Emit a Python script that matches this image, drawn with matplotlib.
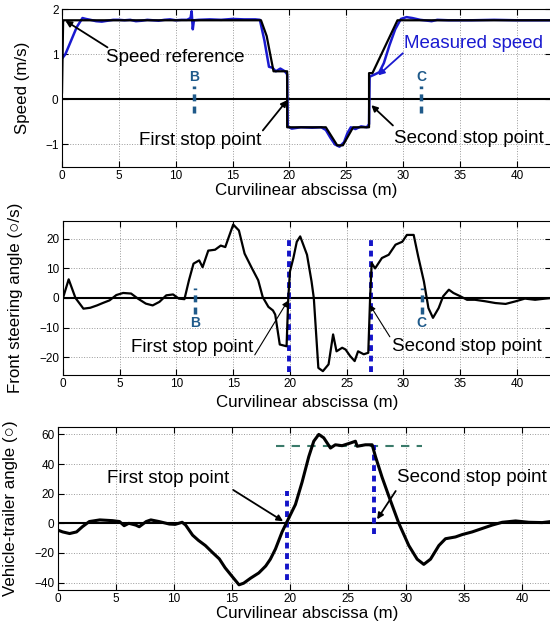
import matplotlib
matplotlib.use("Agg")
import matplotlib.pyplot as plt

plt.rcParams['font.family'] = ['Liberation Sans', 'DejaVu Sans']

# speed panel
ref_x = [0, 0.1, 17.5, 18.0, 18.6, 19.8, 19.8, 23.2, 24.2, 24.7, 25.6, 27.0, 27.0, 27.3, 29.5, 43]
ref_v = [0.15, 1.75, 1.75, 1.4, 0.62, 0.62, -0.62, -0.62, -1.02, -1.02, -0.62, -0.62, 0.58, 0.58, 1.75, 1.75]
meas_x = [0, 0.3, 0.8, 1.3, 1.8, 2.1, 2.5, 3.0, 3.5, 4.0, 4.5, 5.0, 5.5, 6.0, 6.5, 7.0, 7.5, 8.0,
          8.5, 9.0, 9.5, 10.0, 10.5, 11.0, 11.3, 11.4, 11.5, 11.6, 12.0, 13, 14, 15, 16, 17, 17.4,
          17.8, 18.2, 18.5, 18.8, 19.2, 19.6, 19.8, 19.85, 20.2, 21, 22, 22.8, 23.2, 23.6, 24.0,
          24.4, 24.8, 25.1, 25.4, 25.8, 26.3, 26.8, 27.0, 27.05, 27.5, 27.9, 28.3, 28.8, 29.3,
          29.8, 30.3, 30.8, 31.5, 32.5, 33, 34, 36, 38, 40, 43]
meas_v = [0.9, 1.0, 1.3, 1.6, 1.8, 1.78, 1.76, 1.73, 1.72, 1.74, 1.76, 1.76, 1.75, 1.76, 1.73,
          1.74, 1.76, 1.75, 1.74, 1.76, 1.77, 1.75, 1.76, 1.76, 1.8, 1.95, 1.55, 1.75, 1.76, 1.77,
          1.76, 1.78, 1.77, 1.77, 1.76, 1.3, 0.72, 0.7, 0.62, 0.68, 0.62, 0.55, -0.6, -0.65, -0.62,
          -0.63, -0.62, -0.68, -0.85, -1.0, -1.05, -0.95, -0.75, -0.62, -0.66, -0.6, -0.62, -0.55,
          0.5, 0.55, 0.6, 0.8, 1.2, 1.55, 1.78, 1.82, 1.8, 1.76, 1.73, 1.76, 1.75, 1.75, 1.76,
          1.75, 1.75]

# front steering angle panel
steer_x = [0, 0.5, 1.1, 1.8, 2.4, 3.0, 3.5, 4.1, 4.7, 5.3, 6.0, 6.6, 7.3, 7.9, 8.5, 9.1, 9.7,
           10.2, 10.7, 11.1, 11.5, 12.0, 12.3, 12.8, 13.4, 13.9, 14.3, 14.6, 15.0, 15.5, 16.0,
           16.6, 17.2, 17.6, 18.1, 18.5, 18.7, 19.1, 19.7, 19.85, 20.0, 20.3, 20.6, 20.9, 21.5,
           21.9, 22.1, 22.5, 22.9, 23.4, 23.8, 24.1, 24.6, 24.9, 25.3, 25.7, 26.0, 26.5, 26.9,
           27.06, 27.2, 27.5, 28.1, 28.7, 29.3, 29.9, 30.3, 30.9, 31.3, 31.8, 32.2, 32.6, 33.1,
           33.5, 34.0, 34.4, 35.0, 35.6, 36.3, 37.2, 38.1, 39.0, 39.9, 40.7, 41.6, 42.5, 43]
steer_v = [0, 6.3, 0, -3.6, -3.3, -2.5, -1.7, -0.8, 1, 1.7, 1.5, -0.2, -1.9, -2.5, -1.3, 0.9,
           1.2, -0.2, -0.4, 6, 11.6, 12.7, 10.4, 16, 16.3, 17.7, 17.2, 20.5, 24.8, 22.8, 15, 10.4,
           6, 0.3, -3, -4.2, -5.6, -15.7, -16.3, 0, 9, 13.5, 19, 20.8, 14.6, 5.6, 0, -23.6, -24.7,
           -22.4, -12.3, -18, -16.8, -17.4, -19.6, -21.3, -18, -19, -18.5, 0, 11.8, 10, 13.5, 14.6,
           18, 19, 21.3, 21.3, 14, 5.6, -3.4, -6.7, -3.4, 0.6, 2.8, 1.7, 0.6, -0.6, -0.6, -1.1,
           -1.7, -2, -1.1, -0.2, -0.6, -0.2, 0]

# vehicle-trailer angle panel
trail_x = [0, 0.4, 1.0, 1.6, 2.1, 2.7, 3.6, 4.7, 5.3, 5.7, 6.1, 6.7, 7.0, 7.6, 8.0, 8.7, 9.6,
           10.1, 10.7, 11.0, 11.6, 12.1, 12.7, 13.3, 13.9, 14.4, 15.0, 15.6, 16.0, 16.6, 17.3,
           17.9, 18.3, 18.74, 19.31, 19.74, 20.46, 21.03, 21.61, 22.04, 22.47, 22.9, 23.48, 23.9,
           24.48, 25.2, 25.63, 25.78, 26.49, 27.07, 27.36, 27.93, 28.5, 29.37, 30.23, 30.95,
           31.52, 32.1, 32.82, 33.39, 34.25, 34.83, 35.69, 36.55, 37.41, 38.28, 39.43, 40.57,
           41.72, 42.5]
trail_v = [-4.6, -5.8, -6.9, -5.8, -2.3, 1.2, 2.3, 1.8, 1.2, -1.6, 0, -1.2, -2.3, 1.2, 2.3, 1.2,
           -0.5, -0.7, 0.7, -1.2, -8, -11.5, -15, -19.6, -24, -30, -35.8, -41.5, -40.4, -37,
           -33.5, -28.8, -24.2, -17.3, -5.8, 1.2, 12.7, 27.7, 45, 55.4, 60, 57.7, 50.8, 53, 52.4,
           54.2, 55.4, 52, 53, 53, 45, 31, 18.5, 0, -15, -24.2, -27.7, -24.2, -15, -10.4, -9.2,
           -7.6, -5.8, -3.5, -1.2, 0.7, 1.6, 0.7, 0.5, 1.2]

stops_mid = [19.9, 27.1]
stops_bot = [19.7, 27.2]
bc_pos = {'B': 11.6, 'C': 31.6}
plateau = 52

W, H = 550, 627
fig = plt.figure(figsize=(5.5, 6.27), dpi=100)

def make_ax(left, top, bottom, width):
    return fig.add_axes([left / W, 1 - bottom / H, width / W, (bottom - top) / H])

ax1 = make_ax(62, 9, 167, 489)
ax2 = make_ax(63, 221, 375, 488)
ax3 = make_ax(58, 427, 590, 499)

BC_COL = '#1f5a8a'
STOP_COL = '#1414c8'
TFS = 13.5

for ax in (ax1, ax2, ax3):
    ax.set_xlim(0, 43)
    ax.set_xticks(range(0, 45, 5))
    ax.grid(True, linestyle=':', color='#9a9a9a', linewidth=0.7)
    ax.tick_params(direction='in', top=True, right=True, labelsize=8.5, length=4, pad=2.5)
    ax.axhline(0, color='black', lw=1.5, zorder=2)
    ax.set_xlabel('Curvilinear abscissa (m)', fontsize=12.2)
    for s in ax.spines.values():
        s.set_linewidth(0.8)

# top panel
ax1.plot(meas_x, meas_v, color='#1a1ad0', lw=1.8, zorder=3)
ax1.plot(ref_x, ref_v, color='black', lw=1.6, zorder=4)
ax1.set_ylim(-1.5, 2)
ax1.set_yticks([-1, 0, 1, 2])
ax1.set_ylabel('Speed (m/s)', fontsize=12.2)
ax1.yaxis.set_label_coords(-0.065, 0.5)
ax1.xaxis.set_label_coords(0.5, -0.1)
for k, xv in bc_pos.items():
    ax1.plot([xv, xv], [-0.3, 0.3], color=BC_COL, lw=2.5, linestyle=(0, (2, 1.5)), zorder=5)
    ax1.text(xv, 0.5, k, color=BC_COL, fontsize=10, ha='center', va='center', fontweight='bold')
arr = dict(arrowstyle='-|>', color='black', lw=1.3, mutation_scale=9, shrinkA=0, shrinkB=0)
ax1.text(3.9, 0.92, 'Speed reference', fontsize=TFS, ha='left', va='center')
ax1.annotate('', xy=(0.3, 1.74), xytext=(4.0, 1.15), arrowprops=arr)
ax1.text(30.05, 1.24, 'Measured speed', fontsize=TFS, ha='left', va='center', color='#1a1ad0')
ax1.annotate('', xy=(27.8, 0.53), xytext=(29.97, 1.02),
             arrowprops=dict(arr, color='#1a1ad0'))
ax1.text(6.8, -0.91, 'First stop point', fontsize=TFS, ha='left', va='center')
ax1.annotate('', xy=(19.8, -0.02), xytext=(17.66, -0.69), arrowprops=arr)
ax1.text(29.2, -0.87, 'Second stop point', fontsize=TFS, ha='left', va='center')
ax1.annotate('', xy=(27.2, -0.13), xytext=(29.1, -0.58), arrowprops=arr)

# middle panel
ax2.plot(steer_x, steer_v, color='black', lw=1.6, zorder=4)
ax2.set_ylim(-26, 26)
ax2.set_yticks([-20, -10, 0, 10, 20])
ax2.set_ylabel('Front steering angle (\u25cb/s)', fontsize=12.2)
ax2.yaxis.set_label_coords(-0.082, 0.5)
ax2.xaxis.set_label_coords(0.5, -0.13)
for xs in stops_mid:
    ax2.plot([xs, xs], [-25, 21], color=STOP_COL, lw=2.8, linestyle=(0, (1.5, 1.2)), zorder=3)
for k, xv in bc_pos.items():
    ax2.plot([xv, xv], [-5.5, 3.5], color=BC_COL, lw=2.5, linestyle=(0, (2, 1.5)), zorder=5)
    ax2.text(xv, -8.3, k, color=BC_COL, fontsize=10, ha='center', va='center', fontweight='bold')
thin = dict(arrowstyle='-|>', color='black', lw=0.8, mutation_scale=8, shrinkA=0, shrinkB=0)
ax2.text(6.0, -16.8, 'First stop point', fontsize=TFS, ha='left', va='center')
ax2.annotate('', xy=(19.8, -1), xytext=(16.9, -19.2), arrowprops=thin)
ax2.text(29.0, -16.5, 'Second stop point', fontsize=TFS, ha='left', va='center')
ax2.annotate('', xy=(27.05, -2.4), xytext=(28.8, -13.1), arrowprops=thin)

# bottom panel
ax3.plot(trail_x, trail_v, color='black', lw=2.2, zorder=4)
ax3.set_ylim(-45, 65)
ax3.set_yticks([-40, -20, 0, 20, 40, 60])
ax3.set_ylabel('Vehicle-trailer angle (\u25cb)', fontsize=12.2)
ax3.yaxis.set_label_coords(-0.08, 0.5)
ax3.xaxis.set_label_coords(0.5, -0.1)
ax3.plot([18.8, 31.4], [plateau, plateau], color='#3a7a6a', lw=1.5, linestyle=(0, (4, 3.5)), zorder=3)
ax3.plot([stops_bot[0]] * 2, [-38, 22], color=STOP_COL, lw=2.8, linestyle=(0, (1.5, 1.2)), zorder=3)
ax3.plot([stops_bot[1]] * 2, [-7, 53], color=STOP_COL, lw=2.8, linestyle=(0, (1.5, 1.2)), zorder=3)
ax3.text(4.25, 30, 'First stop point', fontsize=TFS, ha='left', va='center')
ax3.annotate('', xy=(19.4, 1.4), xytext=(15.1, 22.5), arrowprops=arr)
ax3.text(29.25, 30.7, 'Second stop point', fontsize=TFS, ha='left', va='center')
ax3.annotate('', xy=(27.5, 2.7), xytext=(29.1, 21.8), arrowprops=arr)

fig.savefig('out.png', dpi=100)
